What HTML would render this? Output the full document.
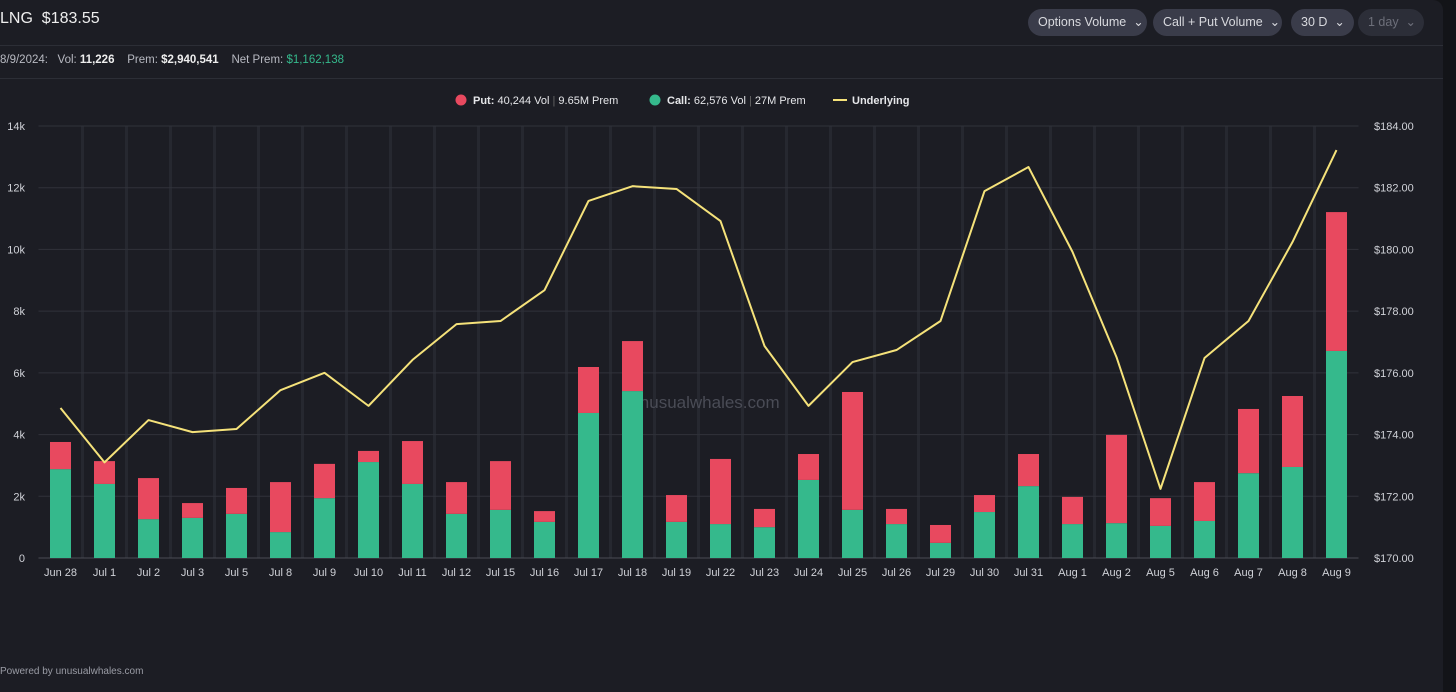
<!DOCTYPE html>
<html><head><meta charset="utf-8"><style>
body{margin:0;width:1456px;height:692px;background:#131418;overflow:hidden;font-family:"Liberation Sans",sans-serif}
#panel{position:absolute;left:0;top:0;width:1443px;height:692px;background:#1c1d24;border-top-right-radius:10px}
.t{position:absolute;white-space:nowrap}
.btn{position:absolute;top:9px;height:27px;border-radius:14px;background:#3a3c4a;color:#d8d9de;font-size:12.5px;line-height:27px;padding:0 0 0 10px;box-sizing:border-box}
.hr{position:absolute;left:0;width:1443px;height:1px;background:#2c2e36}
</style></head><body>
<div id="panel">
<div class="t" style="left:0;top:10px;font-size:16px;color:#eee">LNG&nbsp; $183.55</div>
<div class="btn" style="left:1028px;width:119px">Options Volume &nbsp;⌄</div>
<div class="btn" style="left:1153px;width:129px">Call + Put Volume &nbsp;⌄</div>
<div class="btn" style="left:1291px;width:63px">30 D &nbsp;⌄</div>
<div class="btn" style="left:1358px;width:66px;background:#2c2e38;color:#6d6f7a">1 day &nbsp;⌄</div>
<div class="hr" style="top:45px"></div>
<div class="hr" style="top:78px"></div>
<div class="t" style="left:0;top:54px;font-size:11.5px;color:#b8bac2">8/9/2024:&nbsp;&nbsp; Vol: <b style="color:#eee">11,226</b>&nbsp;&nbsp;&nbsp; Prem: <b style="color:#eee">$2,940,541</b>&nbsp;&nbsp;&nbsp; Net Prem: <span style="color:#35b98c">$1,162,138</span></div>
<div class="t" style="left:0;top:666px;font-size:10px;color:#9a9ca5">Powered by unusualwhales.com</div>
<svg id="chart" width="1443" height="692" style="position:absolute;left:0;top:0"></svg>
</div>
<script>
const categories=["Jun 28","Jul 1","Jul 2","Jul 3","Jul 5","Jul 8","Jul 9","Jul 10","Jul 11","Jul 12","Jul 15","Jul 16","Jul 17","Jul 18","Jul 19","Jul 22","Jul 23","Jul 24","Jul 25","Jul 26","Jul 29","Jul 30","Jul 31","Aug 1","Aug 2","Aug 5","Aug 6","Aug 7","Aug 8","Aug 9"];
const calls=[2880,2400,1260,1300,1430,840,1940,3110,2400,1430,1560,1170,4700,5410,1170,1100,1000,2530,1560,1100,490,1490,2330,1100,1130,1040,1200,2750,2950,6710];
const puts=[880,740,1330,480,840,1620,1110,360,1390,1030,1580,350,1490,1620,870,2110,590,840,3820,490,580,550,1040,880,2860,900,1260,2080,2300,4500];
const underlying=[174.86,173.1,174.47,174.08,174.18,175.44,176.0,174.93,176.42,177.58,177.68,178.68,181.57,182.05,181.96,180.92,176.87,174.93,176.35,176.74,177.68,181.89,182.67,179.92,176.51,172.24,176.48,177.68,180.24,183.22];
const volTicks=[0,2000,4000,6000,8000,10000,12000,14000];
const volTickLabels=["0","2k","4k","6k","8k","10k","12k","14k"];
const priceTicks=[170,172,174,176,178,180,182,184];
const priceTickLabels=["$170.00","$172.00","$174.00","$176.00","$178.00","$180.00","$182.00","$184.00"];

const svg=document.getElementById('chart');const NS='http://www.w3.org/2000/svg';
const L=38.5,R=1358.5,T=126,B=558;
const step=(R-L)/categories.length;
const xC=i=>L+step*(i+0.5);
const yV=v=>B-(v/14000)*(B-T);
const yP=p=>B-((p-170)/14)*(B-T);
function mk(tag,at,parent){const e=document.createElementNS(NS,tag);for(const k in at)e.setAttribute(k,at[k]);(parent||svg).appendChild(e);return e;}
for(let i=1;i<categories.length;i++){const l=mk('line',{x1:L+step*i,x2:L+step*i,y1:T,y2:B,stroke:'#262830','stroke-width':3});

}
volTicks.forEach((v,i)=>{const l=mk('line',{x1:L,x2:R,y1:yV(v),y2:yV(v),stroke:i===0?'#4a4c55':'#30323a','stroke-width':1});


const t=mk('text',{x:25,y:yV(v)+4,'text-anchor':'end',fill:'#d0d2d8','font-size':11});t.textContent=volTickLabels[i];

});
priceTicks.forEach((p,i)=>{const t=mk('text',{x:1374,y:yP(p)+4,fill:'#d0d2d8','font-size':11});t.textContent=priceTickLabels[i];

});
const wm=mk('text',{x:705,y:408,'text-anchor':'middle',fill:'#4a4c56','font-size':17});wm.textContent='unusualwhales.com';


categories.forEach((c,i)=>{const x=xC(i),w=21;
const cb=mk('rect',{x:x-w/2,y:yV(calls[i]),width:w,height:B-yV(calls[i]),fill:'#35b98c'});


const pb=mk('rect',{x:x-w/2,y:yV(calls[i]+puts[i]),width:w,height:yV(calls[i])-yV(calls[i]+puts[i]),fill:'#e8495f'});


const t=mk('text',{x:x,y:576,'text-anchor':'middle',fill:'#d0d2d8','font-size':11});t.textContent=c;

});
const line=mk('polyline',{points:underlying.map((p,i)=>xC(i)+','+yP(p)).join(' '),fill:'none',stroke:'#f5e27a','stroke-width':2,'stroke-linejoin':'round'});


const lg=mk('g',{});


mk('circle',{cx:461,cy:100,r:5.5,fill:'#e8495f'},lg);
let t1=mk('text',{x:473,y:104,fill:'#e6e7ea','font-size':11},lg);t1.innerHTML='<tspan font-weight="bold">Put:</tspan> 40,244 Vol <tspan fill="#666">|</tspan> 9.65M Prem';


mk('circle',{cx:655,cy:100,r:5.5,fill:'#35b98c'},lg);
let t2=mk('text',{x:667,y:104,fill:'#e6e7ea','font-size':11},lg);t2.innerHTML='<tspan font-weight="bold">Call:</tspan> 62,576 Vol <tspan fill="#666">|</tspan> 27M Prem';


mk('line',{x1:833,x2:847,y1:100,y2:100,stroke:'#f5e27a','stroke-width':2},lg);
let t3=mk('text',{x:852,y:104,fill:'#e6e7ea','font-size':11,'font-weight':'bold'},lg);t3.textContent='Underlying';


</script>
</body></html>
